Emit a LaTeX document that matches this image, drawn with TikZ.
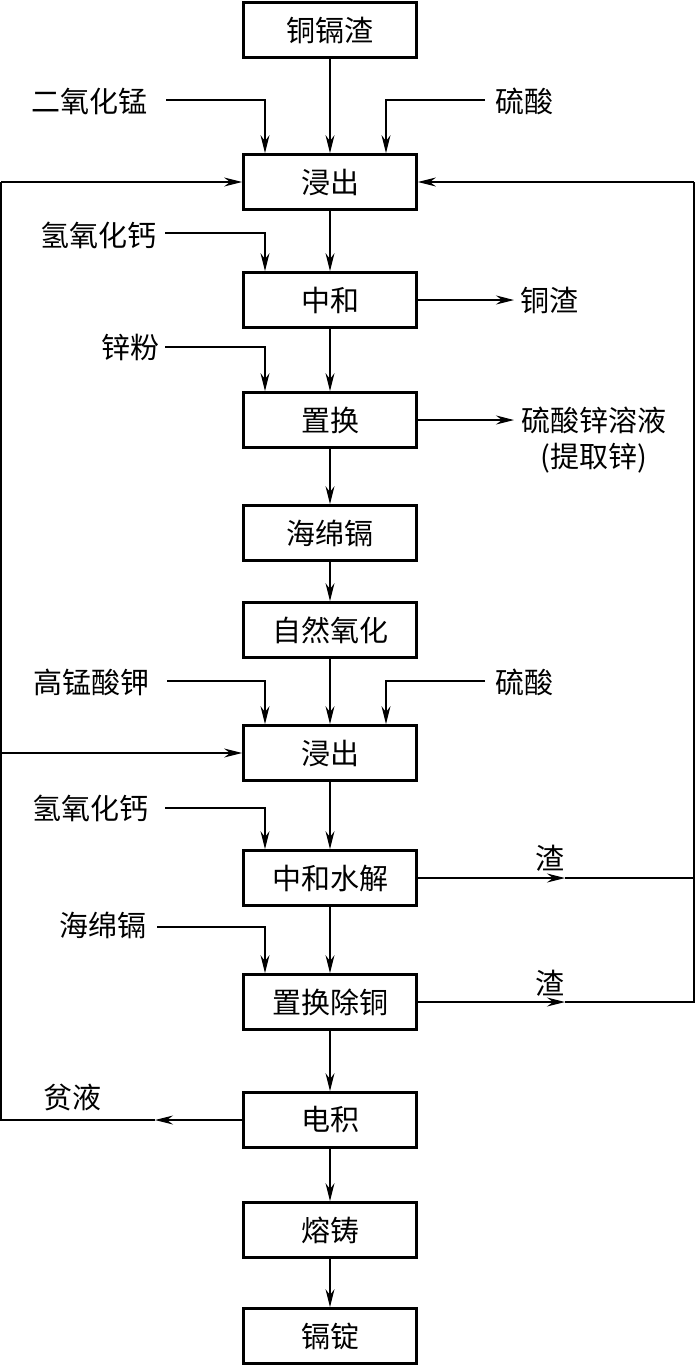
\documentclass[tikz,border=0pt]{standalone}
\usepackage{fontspec}
\newfontfamily\cjk{Noto Sans CJK SC}
\usetikzlibrary{arrows.meta}

\begin{document}
\begin{tikzpicture}[x=1pt, y=-1pt,
  box/.style={draw, line width=2.8pt, minimum width=173pt, minimum height=55pt, inner sep=0pt, font=\cjk\fontsize{29}{36}\selectfont},
  lbl/.style={inner sep=0pt, font=\cjk\fontsize{29}{36}\selectfont},
  ln/.style={line width=1.1pt},
  arr/.style={ln, -{Stealth[length=18pt,width=9pt,inset=6pt]}}]
  \useasboundingbox (0,0) rectangle (695,1366);

  \node[box] (b1) at (330,30) {铜镉渣};
  \node[box] (b2) at (330,182) {浸出};
  \node[box] (b3) at (330,300) {中和};
  \node[box] (b4) at (330,420) {置换};
  \node[box] (b5) at (330,533) {海绵镉};
  \node[box] (b6) at (330,630) {自然氧化};
  \node[box] (b7) at (330,753) {浸出};
  \node[box] (b8) at (330,878) {中和水解};
  \node[box] (b9) at (330,1002) {置换除铜};
  \node[box] (b10) at (330,1120) {电积};
  \node[box] (b11) at (330,1230) {熔铸};
  \node[box] (b12) at (330,1336) {镉锭};

  \node[lbl] (mno) at (89,101) {二氧化锰};
  \node[lbl] (hs1) at (524,101) {硫酸};
  \node[lbl] (ca1) at (98,235) {氢氧化钙};
  \node[lbl] (cuz) at (549,300) {铜渣};
  \node[lbl] (znf) at (130,347) {锌粉};
  \node[lbl, align=center] (zns) at (594,440) {硫酸锌溶液\\(提取锌)};
  \node[lbl] (kmn) at (91,682) {高锰酸钾};
  \node[lbl] (hs2) at (524,682) {硫酸};
  \node[lbl] (ca2) at (90,808) {氢氧化钙};
  \node[lbl] (zha1) at (550,858) {渣};
  \node[lbl] (hmg) at (103,925) {海绵镉};
  \node[lbl] (zha2) at (550,983) {渣};
  \node[lbl] (pye) at (72,1098) {贫液};

  \coordinate (s1) at (166,100);
  \coordinate (s2) at (485,100);
  \coordinate (s3) at (165,233);
  \coordinate (s4) at (165,347);
  \coordinate (s5) at (167,681);
  \coordinate (s6) at (485,681);
  \coordinate (s7) at (165,808);
  \coordinate (s8) at (157,927);
  \coordinate (e1) at (514,300);
  \coordinate (e2) at (514,420);
  \coordinate (m1) at (565,878);
  \coordinate (m2) at (565,1002);
  \coordinate (r0) at (694,182);
  \coordinate (p1) at (155,1120);
  \coordinate (p0) at (1,1120);

  % main line
  \draw[arr] (b1) -- (b2);
  \draw[arr] (b2) -- (b3);
  \draw[arr] (b3) -- (b4);
  \draw[arr] (b4) -- (b5);
  \draw[arr] (b5) -- (b6);
  \draw[arr] (b6) -- (b7);
  \draw[arr] (b7) -- (b8);
  \draw[arr] (b8) -- (b9);
  \draw[arr] (b9) -- (b10);
  \draw[arr] (b10) -- (b11);
  \draw[arr] (b11) -- (b12);

  % side inputs
  \draw[arr] (s1) -| ([xshift=-65pt]b2.north);
  \draw[arr] (s2) -| ([xshift=56pt]b2.north);
  \draw[arr] (s3) -| ([xshift=-65pt]b3.north);
  \draw[arr] (s4) -| ([xshift=-65pt]b4.north);
  \draw[arr] (s5) -| ([xshift=-65pt]b7.north);
  \draw[arr] (s6) -| ([xshift=56pt]b7.north);
  \draw[arr] (s7) -| ([xshift=-65pt]b8.north);
  \draw[arr] (s8) -| ([xshift=-65pt]b9.north);

  % outputs
  \draw[arr] (b3.east) -- (e1);
  \draw[arr] (b4.east) -- (e2);

  % returns
  \draw[arr] (b8.east) -- (m1);
  \draw[ln] (m1) -- (m1 -| r0);
  \draw[arr] (b9.east) -- (m2);
  \draw[ln] (m2) -- (m2 -| r0) -- (r0);
  \draw[arr] (r0) -- (b2.east);
  \draw[arr] (b10.west) -- (p1);
  \draw[ln] (p1) -- (p0) -- (p0 |- b2);
  \draw[arr] (p0 |- b2) -- (b2.west);
  \draw[arr] (p0 |- b7) -- (b7.west);
\end{tikzpicture}
\end{document}
